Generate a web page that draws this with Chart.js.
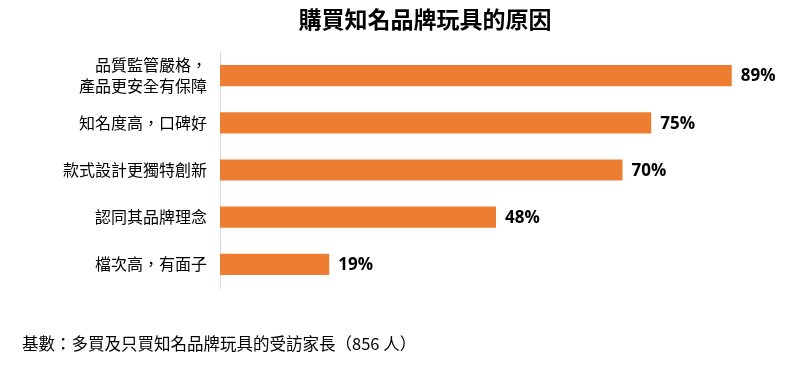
<!DOCTYPE html>
<html>
<head>
<meta charset="utf-8">
<script src="https://cdn.jsdelivr.net/npm/chart.js@4"></script>
<style>
  body { margin: 0; background: #fff; }
  #wrap { position: relative; width: 800px; height: 369px; }
  #title { position: absolute; left: 0; width: 850px; top: 1px; text-align: center;
    font: bold 23px "Noto Sans CJK TC", sans-serif; color: #000; }
  #note { position: absolute; left: 22px; top: 331px;
    font: 16.5px "Noto Sans CJK TC", sans-serif; color: #000; }
</style>
</head>
<body>
<div id="wrap">
  <canvas id="chart" width="800" height="369"></canvas>
  <div id="title">購買知名品牌玩具的原因</div>
  <div id="note">基數：多買及只買知名品牌玩具的受訪家長（856 人）</div>
</div>
<script>
// reasons and share of parents (%)
const reasons = [
    ['品質監管嚴格，', '產品更安全有保障'],
    '知名度高，口碑好',
    '款式設計更獨特創新',
    '認同其品牌理念',
    '檔次高，有面子'
];
const shares = [89, 75, 70, 48, 19];

// write the % figure after each bar
const valueLabels = {
    id: 'valueLabels',
    afterDatasetsDraw(chart) {
        const ctx = chart.ctx;
        const meta = chart.getDatasetMeta(0);
        ctx.save();
        ctx.font = 'bold 17px "Open Sans", "Noto Sans", sans-serif';
        ctx.fillStyle = '#000';
        ctx.textBaseline = 'middle';
        meta.data.forEach((bar, i) => {
            ctx.fillText(shares[i] + '%', bar.x + 9, bar.y + 1);
        });
        ctx.restore();
    }
};

new Chart(document.getElementById('chart'), {
    type: 'bar',
    data: {
        labels: reasons,
        datasets: [{
            data: shares,
            backgroundColor: '#ED7D31',
            categoryPercentage: 0.45,
            barPercentage: 1
        }]
    },
    options: {
        indexAxis: 'y',
        responsive: false,
        animation: false,
        layout: { padding: { top: 52, bottom: 81, right: 5 } },
        plugins: {
            legend: { display: false },
            tooltip: { enabled: false }
        },
        scales: {
            x: { display: false, min: 0, max: 100 },
            y: {
                grid: { display: false },
                border: { display: true, color: '#d9d9d9', width: 1 },
                ticks: {
                    color: '#000',
                    padding: 5,
                    font: { family: '"Noto Sans CJK TC", sans-serif', size: 16, lineHeight: 1.35 }
                },
                afterFit(scale) { scale.width = 220; }
            }
        }
    },
    plugins: [valueLabels]
});
</script>
</body>
</html>
